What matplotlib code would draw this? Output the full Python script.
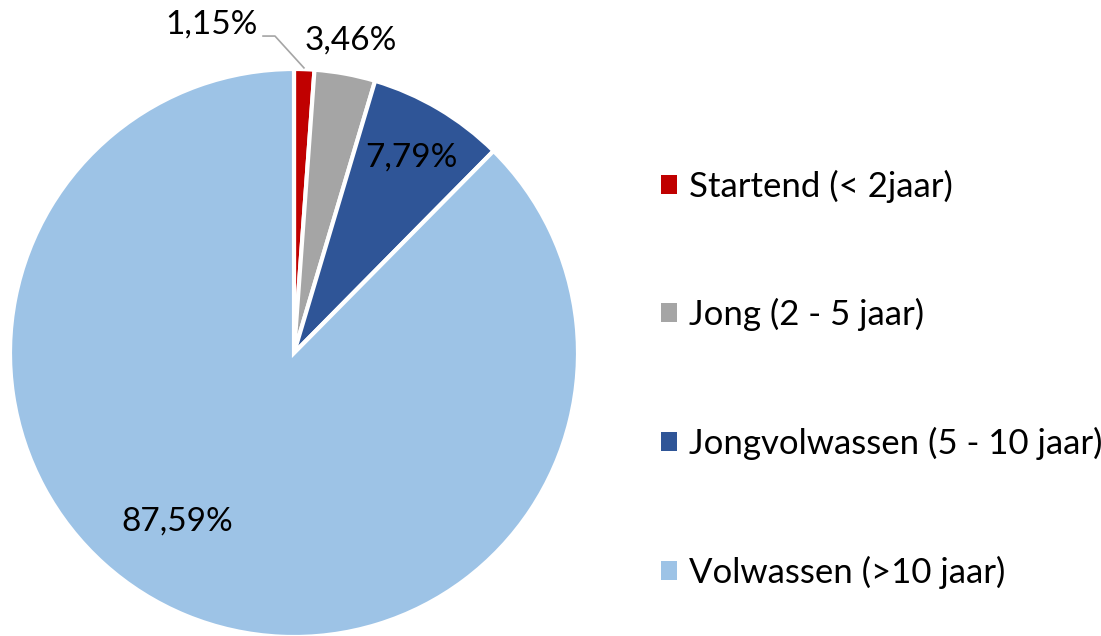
import matplotlib.pyplot as plt
from matplotlib.patches import Patch

plt.rcParams['font.family'] = ['Lato', 'DejaVu Sans']

labels = ['Startend (< 2jaar)', 'Jong (2 - 5 jaar)', 'Jongvolwassen (5 - 10 jaar)', 'Volwassen (>10 jaar)']
values = [1.15, 3.46, 7.79, 87.59]
colors = ['#C00000', '#A5A5A5', '#2F5597', '#9DC3E6']
pct_text = ['1,15%', '3,46%', '7,79%', '87,59%']

fig = plt.figure(figsize=(11.01, 6.36), dpi=100)
ax = fig.add_axes([10 / 1101, -1 / 636, 568 / 1101, 568 / 636])

wedges, _ = ax.pie(values, colors=colors, startangle=90, counterclock=False,
                   wedgeprops=dict(edgecolor='white', linewidth=3))
for w in wedges:
    w.set_clip_on(False)
ax.set_xlim(-1, 1)
ax.set_ylim(-1, 1)
ax.set_aspect('equal')
ax.axis('off')

# label positions (in pie radius units)
label_pos = [(-0.292, 1.155), (0.201, 1.102), (0.415, 0.690), (-0.412, -0.595)]
for txt, (x, y) in zip(pct_text, label_pos):
    ax.text(x, y, txt, ha='center', va='center', fontsize=24, clip_on=False)

# leader line for the small slice
ax.plot([-0.109, -0.067, 0.035], [1.116, 1.116, 1.004], color='#A5A5A5',
        lw=1.2, clip_on=False)

handles = [Patch(facecolor=c, edgecolor='none') for c in colors]
fig.legend(handles, labels, loc='center left', bbox_to_anchor=(661 / 1101, 257 / 636),
           frameon=False, fontsize=25, handlelength=0.46, handleheight=0.46,
           handletextpad=0.345, labelspacing=2.75, borderpad=0, borderaxespad=0)

fig.savefig('out.png', dpi=100)
